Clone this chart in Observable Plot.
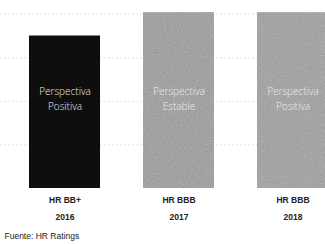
<!DOCTYPE html>
<html>
<head>
<meta charset="utf-8">
<script src="https://cdn.jsdelivr.net/npm/d3@7"></script>
<script src="https://cdn.jsdelivr.net/npm/@observablehq/plot@0.6"></script>
<style>
  html, body { margin: 0; padding: 0; background: #fff; overflow: hidden; }
  #chart { width: 325px; height: 244px; overflow: hidden; }
</style>
</head>
<body>
<div id="chart"></div>
<script>
const years = ["2016", "2017", "2018"];
const ratings = ["HR BB+", "HR BBB", "HR BBB"];
const outlooks = ["Perspectiva\nPositiva", "Perspectiva\nEstable", "Perspectiva\nPositiva"];
const levels = [3.5, 4.03, 4.03];
const barColors = ["#0e0e0e", "#9a9a9a", "#9e9e9e"];
const gridValues = [1, 2, 3, 4];
const source = "Fuente: HR Ratings";

const data = years.map((y, i) => ({year: y, rating: ratings[i], outlook: outlooks[i], level: levels[i], color: barColors[i]}));

const chart = Plot.plot({
  width: 325,
  height: 244,
  marginTop: 5,
  marginBottom: 56,
  marginLeft: 0,
  marginRight: 0,
  style: {background: "#fff", fontFamily: "Liberation Sans, Arial, sans-serif", overflow: "hidden"},
  x: {domain: years, range: [28, 328], paddingInner: 0.38, paddingOuter: 0, axis: null},
  y: {domain: [0, 4.2], axis: null},
  marks: [
    Plot.ruleY(gridValues, {stroke: "#d6d6d6", strokeWidth: 1, strokeDasharray: "2,2", strokeOpacity: 0.7}),
    Plot.barY(data, {x: "year", y: "level", fill: "color", insetLeft: 0, insetRight: 0}),
    Plot.text(data, {x: "year", y: 2.08, text: "outlook", fill: "#ececec", fontSize: 10, lineHeight: 1.5, fontWeight: 300, fontFamily: "Open Sans, sans-serif"}),
    Plot.text(data, {x: "year", text: "rating", frameAnchor: "bottom", dy: 14, fontSize: 8.5, fontWeight: "bold", fill: "#222"}),
    Plot.text(data, {x: "year", text: "year", frameAnchor: "bottom", dy: 31, fontSize: 8.5, fontWeight: "bold", fill: "#222"}),
    Plot.text([source], {frameAnchor: "bottom-left", dx: 4, dy: 50, textAnchor: "start", fontSize: 8.5, fill: "#222"})
  ]
});

// speckled scan-like texture on the grey bars
const ns = "http://www.w3.org/2000/svg";
const defs = document.createElementNS(ns, "defs");
defs.innerHTML = `<filter id="grain" x="0" y="0" width="100%" height="100%">
  <feTurbulence type="fractalNoise" baseFrequency="0.9" numOctaves="2" seed="3" result="noise"/>
  <feColorMatrix in="noise" type="matrix" values="0 0 0 0 0.45  0 0 0 0 0.45  0 0 0 0 0.45  0 0 0 1.6 -0.5" result="speck"/>
  <feComposite in="speck" in2="SourceGraphic" operator="atop" result="tex"/>
  <feBlend in="tex" in2="SourceGraphic" mode="normal"/>
</filter>`;
chart.insertBefore(defs, chart.firstChild);
chart.querySelectorAll("rect").forEach((r) => {
  if (r.getAttribute("fill") !== "#0e0e0e") r.setAttribute("filter", "url(#grain)");
});
document.getElementById("chart").appendChild(chart);
</script>
</body>
</html>
